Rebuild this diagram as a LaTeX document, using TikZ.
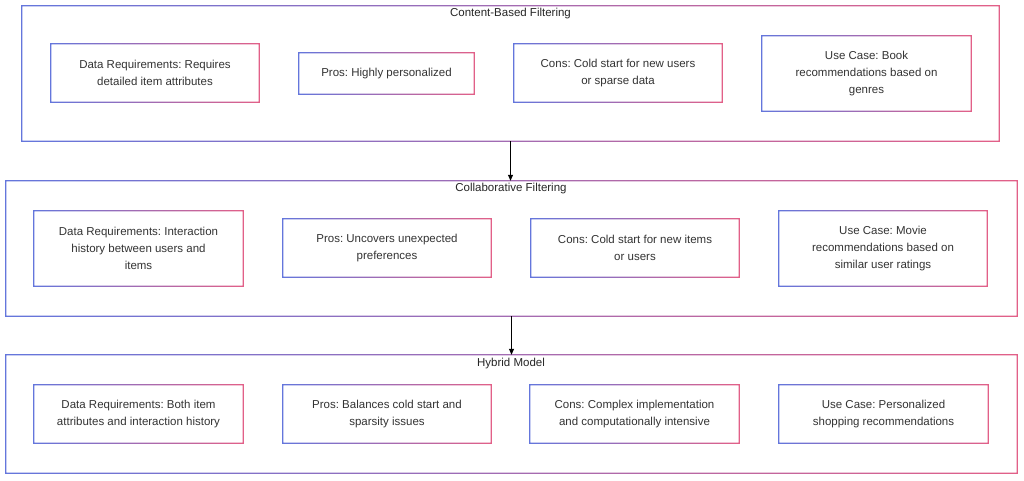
\documentclass[tikz,border=0pt]{standalone}
\usepackage{fontspec}
\setmainfont{Liberation Sans}
\usetikzlibrary{arrows.meta}
\definecolor{gblue}{RGB}{100,118,220}
\definecolor{gpink}{RGB}{226,96,136}
\definecolor{txt}{RGB}{51,51,51}
\tikzset{
 card/.style={rectangle, draw=none, align=center, font=\fontsize{11.5}{17}\selectfont, text=txt, inner sep=0pt},
 grp/.style={rectangle, draw=none, inner sep=0pt},
 gtitle/.style={font=\fontsize{11.5}{14}\selectfont, text=black!85, inner sep=0pt},
 flow/.style={-{Triangle[length=6pt,width=5pt]}, line width=0.7pt, black}
}
\newcommand{\gframe}[1]{\shade[left color=gblue,right color=gpink,even odd rule] ([shift={(-0.6pt,-0.6pt)}]#1.south west) rectangle ([shift={(0.6pt,0.6pt)}]#1.north east) ([shift={(0.6pt,0.6pt)}]#1.south west) rectangle ([shift={(-0.6pt,-0.6pt)}]#1.north east);}
\begin{document}
\frenchspacing
\begin{tikzpicture}[x=1pt,y=-1pt]
\useasboundingbox[fill=white] (0,0) rectangle (1024,481);
% groups
\node[grp, minimum width=977pt, minimum height=135pt] (g1) at (510.5,73.5) {};
\node[grp, minimum width=1011pt, minimum height=135pt] (g2) at (511.5,248.5) {};
\node[grp, minimum width=1011pt, minimum height=118pt] (g3) at (511.5,414) {};
\node[gtitle] (t1) at (510.5,14) {Content-Based Filtering};
\node[gtitle] (t2) at (511,189) {Collaborative Filtering};
\node[gtitle] (t3) at (511,364) {Hybrid Model};
% row 1
\node[card, minimum width=208pt, minimum height=58pt] (a1) at (155,73) {Data Requirements: Requires\\detailed item attributes};
\node[card, minimum width=175pt, minimum height=41pt] (b1) at (386.5,73.5) {Pros: Highly personalized};
\node[card, minimum width=208pt, minimum height=58pt] (c1) at (618,73) {Cons: Cold start for new users\\or sparse data};
\node[card, minimum width=209pt, minimum height=75pt] (d1) at (866.5,73.5) {Use Case: Book\\recommendations based on\\genres};
% row 2
\node[card, minimum width=209pt, minimum height=75pt] (a2) at (138.5,248.5) {Data Requirements: Interaction\\history between users and\\items};
\node[card, minimum width=208pt, minimum height=58pt] (b2) at (387,248) {Pros: Uncovers unexpected\\preferences};
\node[card, minimum width=208pt, minimum height=58pt] (c2) at (635,248) {Cons: Cold start for new items\\or users};
\node[card, minimum width=208pt, minimum height=75pt] (d2) at (883,248.5) {Use Case: Movie\\recommendations based on\\similar user ratings};
% row 3
\node[card, minimum width=209pt, minimum height=58pt] (a3) at (138.5,414) {Data Requirements: Both item\\attributes and interaction history};
\node[card, minimum width=208pt, minimum height=58pt] (b3) at (387,414) {Pros: Balances cold start and\\sparsity issues};
\node[card, minimum width=209pt, minimum height=58pt] (c3) at (634.5,414) {Cons: Complex implementation\\and computationally intensive};
\node[card, minimum width=209pt, minimum height=58pt] (d3) at (883.5,414) {Use Case: Personalized\\shopping recommendations};
% frames
\foreach \n in {g1,g2,g3,a1,b1,c1,d1,a2,b2,c2,d2,a3,b3,c3,d3} {\gframe{\n}}
% arrows
\draw[flow] (g1.south) -- (g1.south |- g2.north);
\draw[flow] (g2.south) -- (g2.south |- g3.north);
\end{tikzpicture}
\end{document}
